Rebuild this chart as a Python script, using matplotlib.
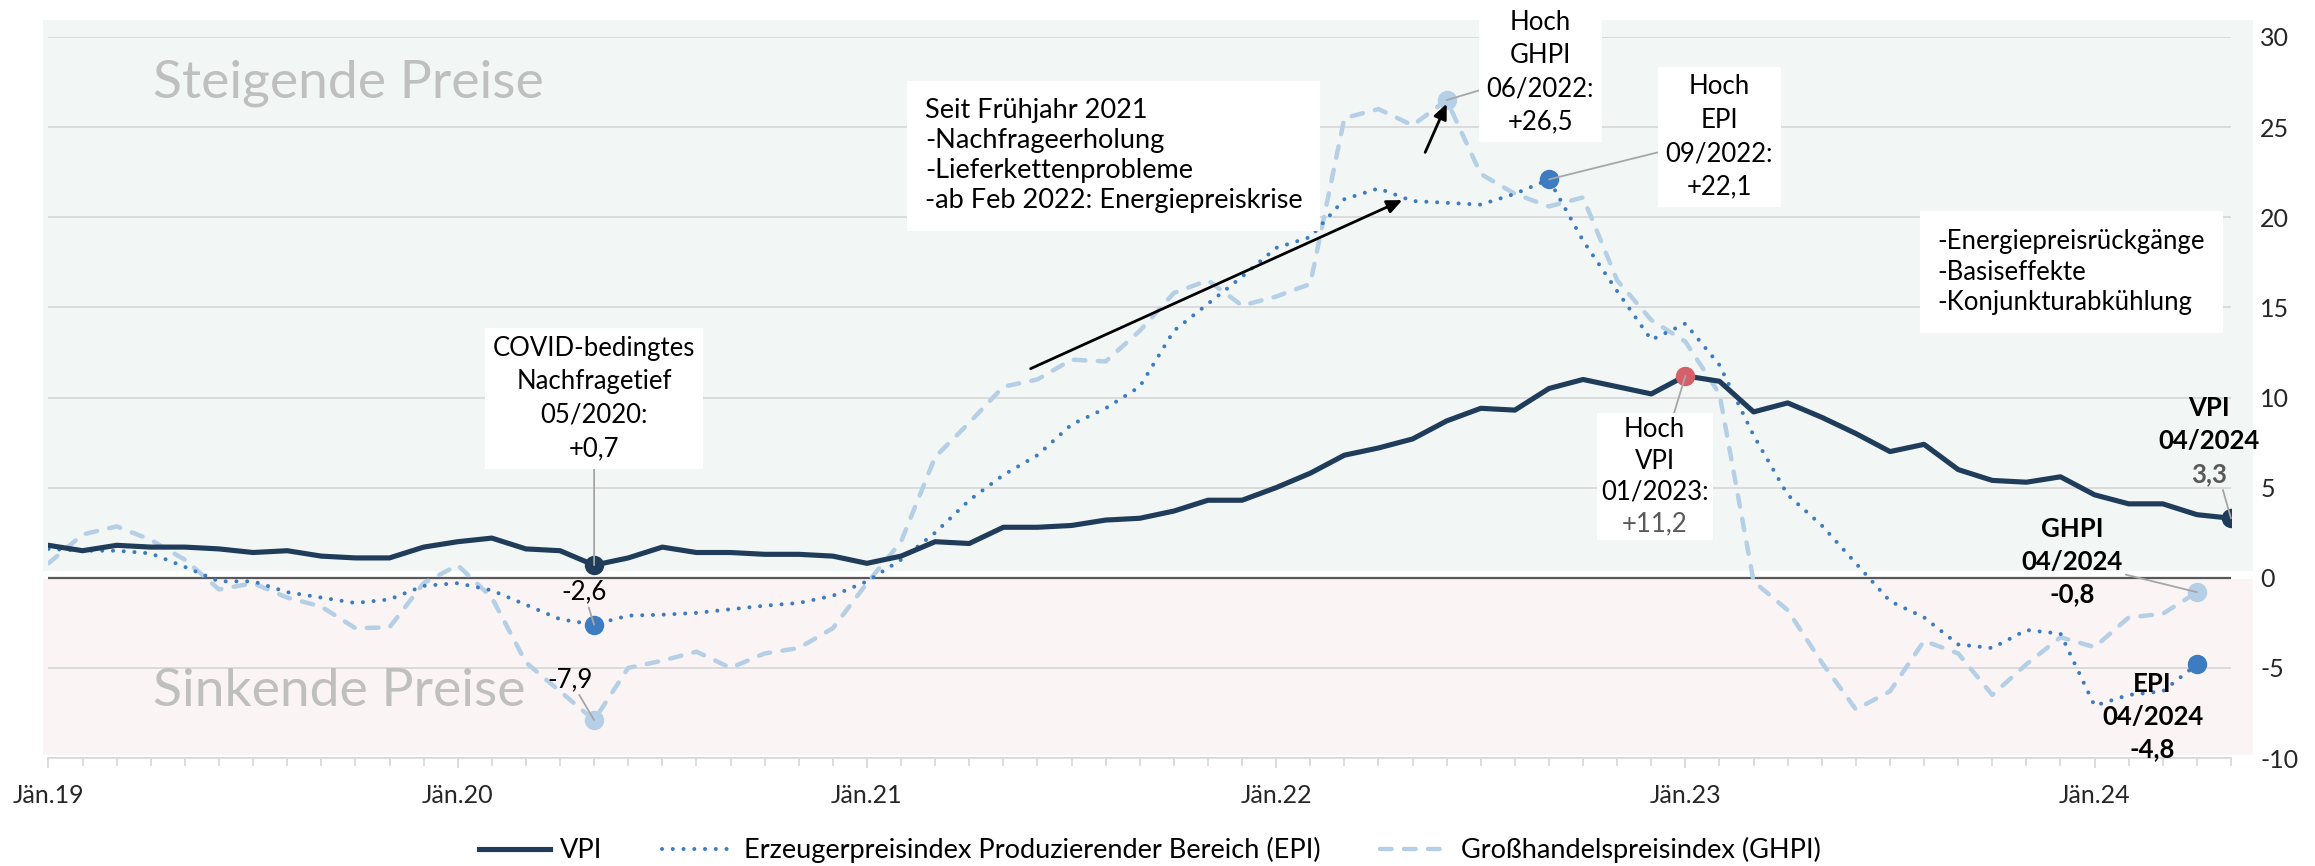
import matplotlib
matplotlib.use("Agg")
import matplotlib.pyplot as plt
from matplotlib.patches import Rectangle
from matplotlib.lines import Line2D
from matplotlib.offsetbox import TextArea, VPacker, AnnotationBbox
import numpy as np

plt.rcParams['font.family'] = ['Lato', 'DejaVu Sans']

# ---- data: year-on-year change in %, monthly from Jan 2019 ----
year_labels = ["Jän.19", "Jän.20", "Jän.21", "Jän.22", "Jän.23", "Jän.24"]

vpi = [1.8, 1.5, 1.8, 1.7, 1.7, 1.6, 1.4, 1.5, 1.2, 1.1, 1.1, 1.7,
       2.0, 2.2, 1.6, 1.5, 0.7, 1.1, 1.7, 1.4, 1.4, 1.3, 1.3, 1.2,
       0.8, 1.2, 2.0, 1.9, 2.8, 2.8, 2.9, 3.2, 3.3, 3.7, 4.3, 4.3,
       5.0, 5.8, 6.8, 7.2, 7.7, 8.7, 9.4, 9.3, 10.5, 11.0, 10.6, 10.2,
       11.2, 10.9, 9.2, 9.7, 8.9, 8.0, 7.0, 7.4, 6.0, 5.4, 5.3, 5.6,
       4.6, 4.1, 4.1, 3.5, 3.3]

epi = [1.6, 1.5, 1.5, 1.35, 0.6, -0.2, -0.2, -0.8, -1.1, -1.4, -1.2, -0.45,
       -0.3, -0.7, -1.5, -2.3, -2.6, -2.1, -2.05, -1.95, -1.75, -1.55, -1.4, -1.0,
       -0.2, 1.0, 2.5, 4.3, 5.7, 6.8, 8.5, 9.4, 10.6, 13.7, 15.2, 16.7,
       18.3, 18.9, 21.0, 21.6, 20.9, 20.8, 20.7, 21.3, 22.1, 18.7, 15.9, 13.2,
       14.1, 11.8, 7.9, 4.6, 2.9, 0.8, -1.3, -2.2, -3.7, -3.9, -2.9, -3.1,
       -7.1, -6.5, -6.3, -4.8]

ghpi = [0.8, 2.4, 2.85, 2.1, 1.0, -0.65, -0.3, -1.1, -1.6, -2.8, -2.75, -0.3,
        0.7, -1.1, -4.7, -6.3, -7.9, -5.0, -4.6, -4.1, -5.0, -4.2, -3.9, -2.8,
        -0.3, 2.0, 6.7, 8.6, 10.6, 11.0, 12.1, 12.0, 13.7, 15.8, 16.5, 15.1,
        15.6, 16.3, 25.5, 26.0, 25.1, 26.5, 22.4, 21.3, 20.6, 21.1, 16.5, 14.3,
        13.1, 10.2, -0.2, -1.8, -4.7, -7.3, -6.3, -3.5, -4.2, -6.5, -4.8, -3.3,
        -3.85, -2.2, -2.0, -0.8]

m_vpi = np.arange(len(vpi))
m_epi = np.arange(len(epi))
m_ghpi = np.arange(len(ghpi))

# highlighted points (month index)
I_COVID = 16
I_GHPI_MAX = 41
I_EPI_MAX = 44
I_VPI_MAX = 48
I_VPI_LAST = len(vpi) - 1
I_LAST = len(epi) - 1

NAVY = '#1F3D5B'
MID = '#3D7CC0'
LIGHT = '#B5CFE6'
RED = '#D5606A'
LEAD = '#A6A6A6'
VALGRAY = '#595959'
FS = 18.5       # callout text
FS_TICK = 18
FS_LEG = 19.5


def fmt(v, sign=True):
    s = f"{v:+.1f}" if sign else f"{v:.1f}"
    return s.replace('.', ',')


fig = plt.figure(figsize=(23.15, 8.66), dpi=100)
ax = fig.add_axes([48.5 / 2315, 1 - 758 / 866, (2231 - 48.5) / 2315, (758 - 37) / 866])
ax.set_facecolor('none')
ax.set_xlim(0, 64)
ax.set_ylim(-10, 30)

# rising / falling price zones
ax.add_patch(Rectangle((-0.16, 0.39), 64.8, 30.56, facecolor='#F2F6F5', edgecolor='none',
                       zorder=0.1, clip_on=False))
ax.add_patch(Rectangle((-0.16, -9.82), 64.8, 9.76, facecolor='#FAF4F4', edgecolor='none',
                       zorder=0.1, clip_on=False))

ax.text(3.05, 27.45, "Steigende Preise", fontsize=38.5, color='#BFBFBF', va='center', ha='left', zorder=1)
ax.text(3.05, -6.3, "Sinkende Preise", fontsize=38.5, color='#BFBFBF', va='center', ha='left', zorder=1)

# grid and axes
ax.set_yticks(np.arange(-10, 31, 5))
ax.yaxis.grid(True, color='#D9D9D9', lw=1.3, zorder=0.5)
ax.set_axisbelow(True)
ax.axhline(0, color='#595959', lw=1.6, zorder=2)
for s in ['top', 'left', 'right']:
    ax.spines[s].set_visible(False)
ax.spines['bottom'].set_color('#D9D9D9')
ax.spines['bottom'].set_linewidth(1.3)

ax.yaxis.tick_right()
ax.tick_params(axis='y', length=0, pad=21, labelsize=FS_TICK, labelcolor='#262626')
ax.set_yticklabels([str(v) for v in range(-10, 31, 5)])

ax.set_xticks(np.arange(0, 61, 12))
ax.set_xticklabels(year_labels)
ax.set_xticks(np.arange(0, 65, 1), minor=True)
ax.tick_params(axis='x', which='major', length=7, width=1.3, color='#D9D9D9', pad=12,
               labelsize=FS_TICK, labelcolor='#262626')
ax.tick_params(axis='x', which='minor', length=5.5, width=1.3, color='#D9D9D9')

# series
DOT = (0, (0.01, 2.66))
DASH = (0, (2.6, 2.8))
ax.plot(m_ghpi, ghpi, color=LIGHT, lw=3.2, linestyle=DASH, dash_capstyle='round', zorder=3)
ax.plot(m_epi, epi, color=MID, lw=2.9, linestyle=DOT, dash_capstyle='round', zorder=4)
ax.plot(m_vpi, vpi, color=NAVY, lw=3.7, solid_joinstyle='round', zorder=5)

MS = 14
for i, arr, col in [(I_COVID, vpi, NAVY), (I_VPI_LAST, vpi, NAVY), (I_VPI_MAX, vpi, RED),
                    (I_COVID, epi, MID), (I_EPI_MAX, epi, MID), (I_LAST, epi, MID),
                    (I_COVID, ghpi, LIGHT), (I_GHPI_MAX, ghpi, LIGHT), (I_LAST, ghpi, LIGHT)]:
    ax.plot(i, arr[i], 'o', color=col, ms=MS, mec='none', zorder=6)

box = dict(boxstyle='square,pad=0.3', fc='white', ec='none')
lead = dict(arrowstyle='-', color=LEAD, lw=1.3, shrinkA=0, shrinkB=0)


def callout(text, i, arr, xt, yt, ha='center', bbox=box, weight='normal', ls=1.42):
    return ax.annotate(text, xy=(i, arr[i]), xytext=(xt, yt), textcoords='data',
                       ha=ha, va='center', ma=ha, fontsize=FS, fontweight=weight,
                       linespacing=ls, bbox=bbox, arrowprops=lead,
                       annotation_clip=False, zorder=7)


def stacked(lines, i, arr, xt, yt, sep, frame, weight='normal'):
    """Centred block of lines, each with its own colour, linked to a point."""
    areas = [TextArea(t, textprops=dict(fontsize=FS, fontweight=weight, color=c))
             for t, c in lines]
    pack = VPacker(children=areas, align='center', pad=0, sep=sep)
    ab = AnnotationBbox(pack, (i, arr[i]), xybox=(xt, yt), xycoords='data', boxcoords='data',
                        frameon=frame, pad=0.3,
                        bboxprops=dict(boxstyle='square,pad=0.3', fc='white', ec='none'),
                        arrowprops=lead, annotation_clip=False, zorder=7)
    ax.add_artist(ab)
    return ab


callout("COVID-bedingtes\nNachfragetief\n05/2020:\n" + fmt(vpi[I_COVID]), I_COVID, vpi, 16.0, 9.95)
callout(fmt(epi[I_COVID], False), I_COVID, epi, 15.7, -0.8, bbox=None)
callout(fmt(ghpi[I_COVID], False), I_COVID, ghpi, 15.3, -5.65, bbox=None)

callout("Hoch\nGHPI\n06/2022:\n" + fmt(ghpi[I_GHPI_MAX]), I_GHPI_MAX, ghpi, 43.75, 28.05)
callout("Hoch\nEPI\n09/2022:\n" + fmt(epi[I_EPI_MAX]), I_EPI_MAX, epi, 49.0, 24.45)

stacked([("Hoch", 'black'), ("VPI", 'black'), ("01/2023:", 'black'),
         (fmt(vpi[I_VPI_MAX]), VALGRAY)], I_VPI_MAX, vpi, 47.1, 5.6, sep=4.5, frame=True)

# most recent values
stacked([("VPI", 'black'), ("04/2024", 'black'), (fmt(vpi[I_VPI_LAST], False), VALGRAY)],
        I_VPI_LAST, vpi, 63.35, 7.6, sep=6.5, frame=False, weight='bold')
callout("GHPI\n04/2024\n" + fmt(ghpi[I_LAST], False), I_LAST, ghpi, 59.35, 0.9,
        bbox=None, weight='bold', ls=1.42)
ax.text(61.7, -7.7, "EPI\n04/2024\n" + fmt(epi[I_LAST], False), ha='center', va='center',
        ma='center', fontsize=FS, fontweight='bold', linespacing=1.42, zorder=8)

# explanatory notes
ax.text(25.7, 23.4, "Seit Frühjahr 2021\n-Nachfrageerholung\n-Lieferkettenprobleme\n"
        "-ab Feb 2022: Energiepreiskrise", ha='left', va='center', fontsize=19.5, linespacing=1.25,
        bbox=dict(boxstyle='square,pad=0.65', fc='white', ec='none'), zorder=7)
ax.text(55.4, 16.95, "-Energiepreisrückgänge\n-Basiseffekte\n-Konjunkturabkühlung",
        ha='left', va='center', fontsize=FS, linespacing=1.28,
        bbox=dict(boxstyle='square,pad=0.7', fc='white', ec='none'), zorder=7)

arrow = dict(arrowstyle='-|>,head_length=0.9,head_width=0.4', color='black', lw=2,
             shrinkA=0, shrinkB=0)
ax.annotate("", xy=(39.7, 20.95), xytext=(28.8, 11.6), arrowprops=arrow, zorder=7)
ax.annotate("", xy=(41.0, 26.3), xytext=(40.37, 23.6), arrowprops=arrow, zorder=7)

# legend
handles = [
    Line2D([], [], color=NAVY, lw=3.7),
    Line2D([], [], color=MID, lw=2.9, linestyle=DOT, dash_capstyle='round'),
    Line2D([], [], color=LIGHT, lw=3.2, linestyle=DASH, dash_capstyle='round'),
]
labels = ["VPI", "Erzeugerpreisindex Produzierender Bereich (EPI)", "Großhandelspreisindex (GHPI)"]
fig.legend(handles, labels, loc='center', bbox_to_anchor=(1150 / 2315, 1 - 850 / 866), ncol=3,
           frameon=False, fontsize=FS_LEG, handlelength=2.6, handletextpad=0.4, columnspacing=2.2)

fig.savefig("out.png", dpi=100)
